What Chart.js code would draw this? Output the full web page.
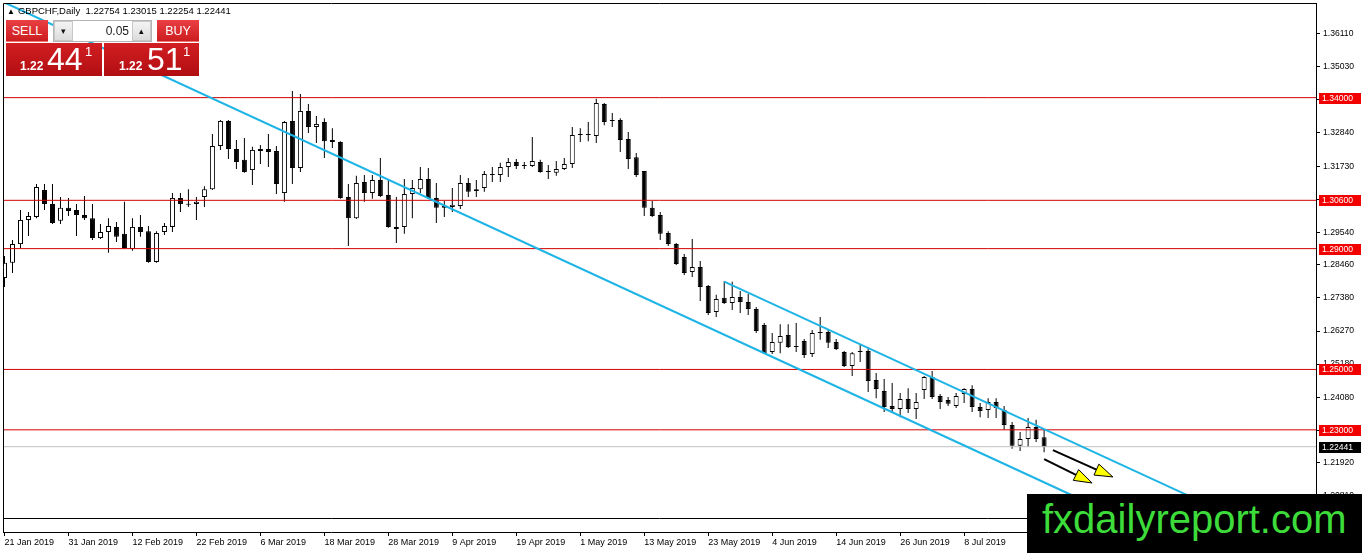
<!DOCTYPE html>
<html>
<head>
<meta charset="utf-8">
<script src="https://cdn.jsdelivr.net/npm/chart.js@4.4.1/dist/chart.umd.min.js"></script>
<style>
  html, body { margin: 0; padding: 0; background: #fff; }
  #wrap { position: relative; width: 1362px; height: 553px; overflow: hidden; font-family: 'Liberation Sans', Arial, sans-serif; }
  #myChart { position: absolute; left: 0; top: 0; }
  .title { position: absolute; left: 7px; top: 5px; font-size: 9.5px; line-height: 11px; color: #000; white-space: pre; }
  .title .tri { font-size: 8px; margin-right: 3px; }
  .head { position: absolute; top: 20px; width: 42px; height: 22px; line-height: 22px; text-align: center; color: #fff; font-size: 12.5px;
          font-family: 'Liberation Sans Narrow', 'Liberation Sans', Arial, sans-serif;
          background: linear-gradient(#ea4043, #cc1c20); border-bottom: 1px solid #ee7777; box-sizing: border-box; }
  .lot { position: absolute; left: 53px; top: 20px; width: 99px; height: 22px; background: #fff; border: 1px solid #b5b5b5; box-sizing: border-box; }
  .spin { position: absolute; top: 0; width: 19px; height: 20px; background: linear-gradient(#f4f4f4, #dcdcdc); border: 1px solid #c8c8c8; box-sizing: border-box;
          font-size: 9px; line-height: 18px; text-align: center; color: #111; }
  .val { position: absolute; left: 20px; width: 55px; top: 0; height: 20px; line-height: 20px; text-align: right; font-size: 12px; color: #222; }
  .px { position: absolute; top: 43px; height: 33px; background: linear-gradient(#d21e22, #b10e12); color: #fff; }
  .px span { position: absolute; white-space: pre; }
  .px .s { font-size: 12px; line-height: 12px; font-weight: bold; top: 17px; }
  .px .b { font-size: 32px; line-height: 32px; top: 0px; }
  .px .p { font-size: 13px; line-height: 13px; top: 2px; }
  .wm { position: absolute; left: 1027px; top: 494px; width: 335px; height: 59px; background: #000; color: #3ddc3a;
        font-size: 40px; line-height: 51px; padding-left: 15px; box-sizing: border-box; white-space: pre; }
</style>
</head>
<body>
<div id="wrap">
  <canvas id="myChart" width="1362" height="553"></canvas>
  <div class="title"><span class="tri">&#9650;</span>GBPCHF,Daily  1.22754 1.23015 1.22254 1.22441</div>
  <div class="head" style="left:6px">SELL</div>
  <div class="lot">
    <div class="spin" style="left:0">&#9662;</div>
    <div class="val">0.05</div>
    <div class="spin" style="left:78px">&#9652;</div>
  </div>
  <div class="head" style="left:157px">BUY</div>
  <div class="px" style="left:6px;width:96px"><span class="s" style="left:14px">1.22</span><span class="b" style="left:41px">44</span><span class="p" style="left:79px">1</span></div>
  <div class="px" style="left:104px;width:95px"><span class="s" style="left:15px">1.22</span><span class="b" style="left:43px">51</span><span class="p" style="left:79px">1</span></div>
  <div class="wm">fxdailyreport.com</div>
</div>
<script>
// GBPCHF daily bars, 21 Jan 2019 onwards (one entry per bar)
const opens = [
  1.2803, 1.2853, 1.2915, 1.2995, 1.3005, 1.3094, 1.3048, 1.2992, 1.3035, 1.3028,
  1.3011, 1.3001, 1.2935, 1.2955, 1.2972, 1.2949, 1.2899, 1.2972, 1.2958, 1.2856,
  1.2955, 1.2972, 1.3068, 1.3048, 1.3048, 1.3071, 1.3097, 1.3240, 1.3323, 1.3230,
  1.3194, 1.3160, 1.3230, 1.3230, 1.3223, 1.3084, 1.3323, 1.3167, 1.3356, 1.3303,
  1.3319, 1.3260, 1.3253, 1.3071, 1.3001, 1.3121, 1.3084, 1.3127, 1.3078, 1.2972,
  1.2972, 1.3081, 1.3097, 1.3131, 1.3068, 1.3035, 1.3038, 1.3041, 1.3117, 1.3091,
  1.3101, 1.3147, 1.3144, 1.3170, 1.3187, 1.3177, 1.3174, 1.3187, 1.3157, 1.3151,
  1.3164, 1.3180, 1.3280, 1.3280, 1.3273, 1.3379, 1.3326, 1.3326, 1.3263, 1.3203,
  1.3157, 1.3035, 1.3011, 1.2952, 1.2915, 1.2872, 1.2823, 1.2839, 1.2776, 1.2690,
  1.2737, 1.2720, 1.2740, 1.2723, 1.2700, 1.2647, 1.2558, 1.2588, 1.2614, 1.2578,
  1.2594, 1.2551, 1.2624, 1.2624, 1.2591, 1.2558, 1.2511, 1.2561, 1.2561, 1.2465,
  1.2429, 1.2379, 1.2369, 1.2402, 1.2369, 1.2432, 1.2475, 1.2412, 1.2399, 1.2379,
  1.2419, 1.2435, 1.2376, 1.2366, 1.2392, 1.2366, 1.2316, 1.2247, 1.2270, 1.2309,
  1.22754
];
const highs = [
  1.2876, 1.2929, 1.3028, 1.3021, 1.3114, 1.3114, 1.3114, 1.3071, 1.3068, 1.3048,
  1.3074, 1.3048, 1.2982, 1.3001, 1.2988, 1.3055, 1.3001, 1.3011, 1.2975, 1.2958,
  1.2985, 1.3084, 1.3084, 1.3097, 1.3071, 1.3107, 1.3280, 1.3326, 1.3326, 1.3260,
  1.3266, 1.3237, 1.3243, 1.3280, 1.3240, 1.3323, 1.3422, 1.3412, 1.3379, 1.3339,
  1.3332, 1.3299, 1.3256, 1.3114, 1.3141, 1.3144, 1.3144, 1.3200, 1.3131, 1.3071,
  1.3131, 1.3127, 1.3170, 1.3167, 1.3117, 1.3058, 1.3101, 1.3144, 1.3134, 1.3127,
  1.3157, 1.3170, 1.3184, 1.3200, 1.3197, 1.3187, 1.3270, 1.3194, 1.3177, 1.3190,
  1.3200, 1.3303, 1.3299, 1.3319, 1.3396, 1.3382, 1.3349, 1.3332, 1.3286, 1.3217,
  1.3157, 1.3058, 1.3021, 1.2958, 1.2919, 1.2882, 1.2932, 1.2859, 1.2780, 1.2747,
  1.2793, 1.2790, 1.2760, 1.2750, 1.2707, 1.2654, 1.2621, 1.2650, 1.2650, 1.2654,
  1.2601, 1.2631, 1.2674, 1.2631, 1.2601, 1.2561, 1.2558, 1.2584, 1.2574, 1.2488,
  1.2468, 1.2455, 1.2422, 1.2438, 1.2422, 1.2478, 1.2495, 1.2419, 1.2409, 1.2422,
  1.2438, 1.2448, 1.2389, 1.2405, 1.2405, 1.2379, 1.2326, 1.2293, 1.2339, 1.2333,
  1.23015
];
const lows = [
  1.2773, 1.2819, 1.2902, 1.2942, 1.3001, 1.3028, 1.2982, 1.2982, 1.3008, 1.2942,
  1.2995, 1.2929, 1.2932, 1.2886, 1.2922, 1.2899, 1.2893, 1.2939, 1.2853, 1.2853,
  1.2945, 1.2955, 1.3021, 1.3038, 1.2995, 1.3038, 1.3094, 1.3227, 1.3197, 1.3164,
  1.3151, 1.3111, 1.3180, 1.3170, 1.3081, 1.3055, 1.3114, 1.3154, 1.3283, 1.3250,
  1.3200, 1.3233, 1.3065, 1.2909, 1.2998, 1.3055, 1.3065, 1.3071, 1.2969, 1.2919,
  1.2949, 1.3001, 1.3084, 1.3065, 1.2985, 1.3005, 1.3021, 1.3031, 1.3071, 1.3071,
  1.3088, 1.3121, 1.3121, 1.3137, 1.3164, 1.3164, 1.3170, 1.3151, 1.3131, 1.3141,
  1.3160, 1.3167, 1.3253, 1.3256, 1.3250, 1.3309, 1.3303, 1.3220, 1.3164, 1.3137,
  1.3008, 1.3005, 1.2929, 1.2909, 1.2846, 1.2813, 1.2806, 1.2727, 1.2680, 1.2674,
  1.2717, 1.2697, 1.2687, 1.2680, 1.2621, 1.2551, 1.2551, 1.2554, 1.2571, 1.2558,
  1.2538, 1.2541, 1.2598, 1.2571, 1.2564, 1.2508, 1.2478, 1.2525, 1.2425, 1.2405,
  1.2359, 1.2356, 1.2342, 1.2356, 1.2336, 1.2402, 1.2402, 1.2369, 1.2379, 1.2372,
  1.2389, 1.2359, 1.2342, 1.2339, 1.2339, 1.2300, 1.2237, 1.2230, 1.2243, 1.2260,
  1.22254
];
const closes = [
  1.2853, 1.2915, 1.2995, 1.3008, 1.3104, 1.3048, 1.2985, 1.3035, 1.3025, 1.3011,
  1.3001, 1.2935, 1.2955, 1.2975, 1.2939, 1.2902, 1.2972, 1.2955, 1.2856, 1.2952,
  1.2975, 1.3068, 1.3048, 1.3045, 1.3055, 1.3097, 1.3240, 1.3323, 1.3230, 1.3187,
  1.3154, 1.3227, 1.3223, 1.3220, 1.3114, 1.3319, 1.3167, 1.3356, 1.3303, 1.3313,
  1.3256, 1.3253, 1.3068, 1.3001, 1.3117, 1.3084, 1.3127, 1.3074, 1.2972, 1.2965,
  1.3081, 1.3101, 1.3131, 1.3068, 1.3035, 1.3041, 1.3045, 1.3117, 1.3088, 1.3097,
  1.3147, 1.3144, 1.3170, 1.3187, 1.3174, 1.3174, 1.3190, 1.3154, 1.3154, 1.3164,
  1.3180, 1.3276, 1.3276, 1.3276, 1.3382, 1.3319, 1.3323, 1.3260, 1.3197, 1.3144,
  1.3035, 1.3008, 1.2949, 1.2915, 1.2849, 1.2819, 1.2839, 1.2773, 1.2687, 1.2733,
  1.2720, 1.2740, 1.2723, 1.2700, 1.2627, 1.2554, 1.2591, 1.2611, 1.2574, 1.2574,
  1.2548, 1.2621, 1.2621, 1.2588, 1.2568, 1.2511, 1.2554, 1.2558, 1.2462, 1.2435,
  1.2376, 1.2369, 1.2402, 1.2369, 1.2392, 1.2475, 1.2409, 1.2392, 1.2386, 1.2412,
  1.2435, 1.2376, 1.2362, 1.2392, 1.2372, 1.2316, 1.2247, 1.2270, 1.2309, 1.2270,
  1.22441
];

// time scale labels (bar index -> date)
const tickBars = [0, 8, 16, 24, 32, 40, 48, 56, 64, 72, 80, 88, 96, 104, 112, 120, 128];
const tickLabels = ['21 Jan 2019', '31 Jan 2019', '12 Feb 2019', '22 Feb 2019', '6 Mar 2019', '18 Mar 2019',
  '28 Mar 2019', '9 Apr 2019', '19 Apr 2019', '1 May 2019', '13 May 2019', '23 May 2019', '4 Jun 2019',
  '14 Jun 2019', '26 Jun 2019', '8 Jul 2019', '18 Jul 2019'];
const priceTicks = [1.36110, 1.35030, 1.33950, 1.32840, 1.31730, 1.30640, 1.29540, 1.28460,
  1.27380, 1.26270, 1.25180, 1.24080, 1.22990, 1.21920, 1.20810];

// drawn objects
const levels = [1.34000, 1.30600, 1.29000, 1.25000, 1.23000];
const bid = 1.22441;
const channelLower = [{ x: 0, y: 1.3715 }, { x: 140, y: 1.2004 }];
const channelUpper = [{ x: 90, y: 1.2791 }, { x: 150, y: 1.2058 }];
const arrows = [
  { from: [130, 1.2203], to: [136, 1.2124] },
  { from: [131.1, 1.2233], to: [138.6, 1.2144] }
];

const xMin = -0.1875, xMax = 164;
const yMin = 1.19617, yMax = 1.37134;
const FONT = { family: 'Liberation Sans', size: 8.6 };
const XFONT = { family: 'Liberation Sans', size: 9 };

const hLine = (p, color) => ({
  type: 'line', data: [{ x: xMin, y: p }, { x: xMax, y: p }],
  borderColor: color, borderWidth: 1, pointRadius: 0, order: -1
});
const trend = (pts) => ({
  type: 'line', data: pts, borderColor: '#1eb4e6', borderWidth: 2, pointRadius: 0, order: -2
});
// keep the plot box where MT4 puts it: no automatic label padding
const noPad = s => { s.paddingTop = 0; s.paddingBottom = 0; s.paddingLeft = 0; s.paddingRight = 0; };

const framePlugin = {
  id: 'frame',
  afterDraw(chart) {
    const { ctx, chartArea: a } = chart;
    ctx.save();
    ctx.strokeStyle = '#000';
    ctx.lineWidth = 1;
    ctx.beginPath();
    ctx.moveTo(a.left + 0.5, a.bottom); ctx.lineTo(a.left + 0.5, a.top + 0.5); ctx.lineTo(a.right, a.top + 0.5);
    ctx.moveTo(a.left, a.bottom - 13.5); ctx.lineTo(a.right, a.bottom - 13.5);
    ctx.stroke();
    ctx.restore();
  }
};

const arrowPlugin = {
  id: 'arrows',
  afterDatasetsDraw(chart) {
    const { ctx, scales: { x, y } } = chart;
    ctx.save();
    arrows.forEach(a => {
      const x0 = x.getPixelForValue(a.from[0]), y0 = y.getPixelForValue(a.from[1]);
      const x1 = x.getPixelForValue(a.to[0]), y1 = y.getPixelForValue(a.to[1]);
      const ang = Math.atan2(y1 - y0, x1 - x0);
      const len = 18, half = 6;
      const bx = x1 - len * Math.cos(ang), by = y1 - len * Math.sin(ang);
      ctx.strokeStyle = '#000';
      ctx.lineWidth = 2;
      ctx.beginPath(); ctx.moveTo(x0, y0); ctx.lineTo(bx, by); ctx.stroke();
      ctx.beginPath();
      ctx.moveTo(x1, y1);
      ctx.lineTo(bx + half * Math.sin(ang), by - half * Math.cos(ang));
      ctx.lineTo(bx - half * Math.sin(ang), by + half * Math.cos(ang));
      ctx.closePath();
      ctx.fillStyle = '#ffff00';
      ctx.fill();
      ctx.lineWidth = 1;
      ctx.stroke();
    });
    ctx.restore();
  }
};

const priceLabelPlugin = {
  id: 'priceLabels',
  afterDraw(chart) {
    const { ctx, chartArea: a, scales: { y } } = chart;
    ctx.save();
    ctx.font = FONT.size + 'px ' + FONT.family;
    ctx.textBaseline = 'middle';
    const box = (p, bg) => {
      const py = Math.round(y.getPixelForValue(p));
      ctx.fillStyle = bg;
      ctx.fillRect(a.right + 3, py - 5, 42, 11);
      ctx.fillStyle = '#fff';
      ctx.fillText(p.toFixed(5), a.right + 6, py + 0.5);
    };
    levels.forEach(p => box(p, '#f20000'));
    box(bid, '#000');
    ctx.restore();
  }
};

const ctx = document.getElementById('myChart').getContext('2d');
const chart = new Chart(ctx, {
  type: 'bar',
  data: {
    datasets: [
      {
        label: 'bodies',
        data: opens.map((o, i) => ({ x: i, y: [o, closes[i]] })),
        backgroundColor: opens.map((o, i) => closes[i] >= o ? '#fff' : '#000'),
        borderColor: '#000', borderWidth: 1, borderSkipped: false,
        barThickness: 5, minBarLength: 1, grouped: false, inflateAmount: 0, order: 1
      },
      {
        label: 'wicks',
        data: highs.map((h, i) => ({ x: i, y: [lows[i], h] })),
        backgroundColor: '#000', barThickness: 1, grouped: false, inflateAmount: 0, order: 2
      },
      ...levels.map(p => hLine(p, '#d40000')),
      hLine(bid, '#c0c0c0'),
      trend(channelLower),
      trend(channelUpper)
    ]
  },
  options: {
    responsive: false,
    devicePixelRatio: 1,
    animation: false,
    events: [],
    layout: { padding: { left: 3, top: 3, right: 0, bottom: 0 } },
    plugins: { legend: { display: false }, tooltip: { enabled: false } },
    scales: {
      x: {
        type: 'linear', min: xMin, max: xMax, offset: false,
        afterBuildTicks: s => { s.ticks = tickBars.map(v => ({ value: v })); },
        afterFit: s => { s.height = 21; noPad(s); },
        ticks: {
          autoSkip: false, maxRotation: 0, align: 'start', padding: 1, color: '#000', font: XFONT,
          callback: v => tickLabels[tickBars.indexOf(v)]
        },
        grid: { drawOnChartArea: false, drawTicks: true, tickLength: 4, color: '#000', offset: false },
        border: { display: true, color: '#000' }
      },
      y: {
        type: 'linear', position: 'right', min: yMin, max: yMax, beginAtZero: false,
        afterBuildTicks: s => { s.ticks = priceTicks.map(v => ({ value: v })); },
        afterFit: s => { s.width = 46; noPad(s); },
        ticks: { autoSkip: false, padding: 3, color: '#000', font: FONT, callback: v => v.toFixed(5) },
        grid: { drawOnChartArea: false, drawTicks: true, tickLength: 4, color: '#000' },
        border: { display: true, color: '#000' }
      }
    }
  },
  plugins: [framePlugin, arrowPlugin, priceLabelPlugin]
});
</script>
</body>
</html>
